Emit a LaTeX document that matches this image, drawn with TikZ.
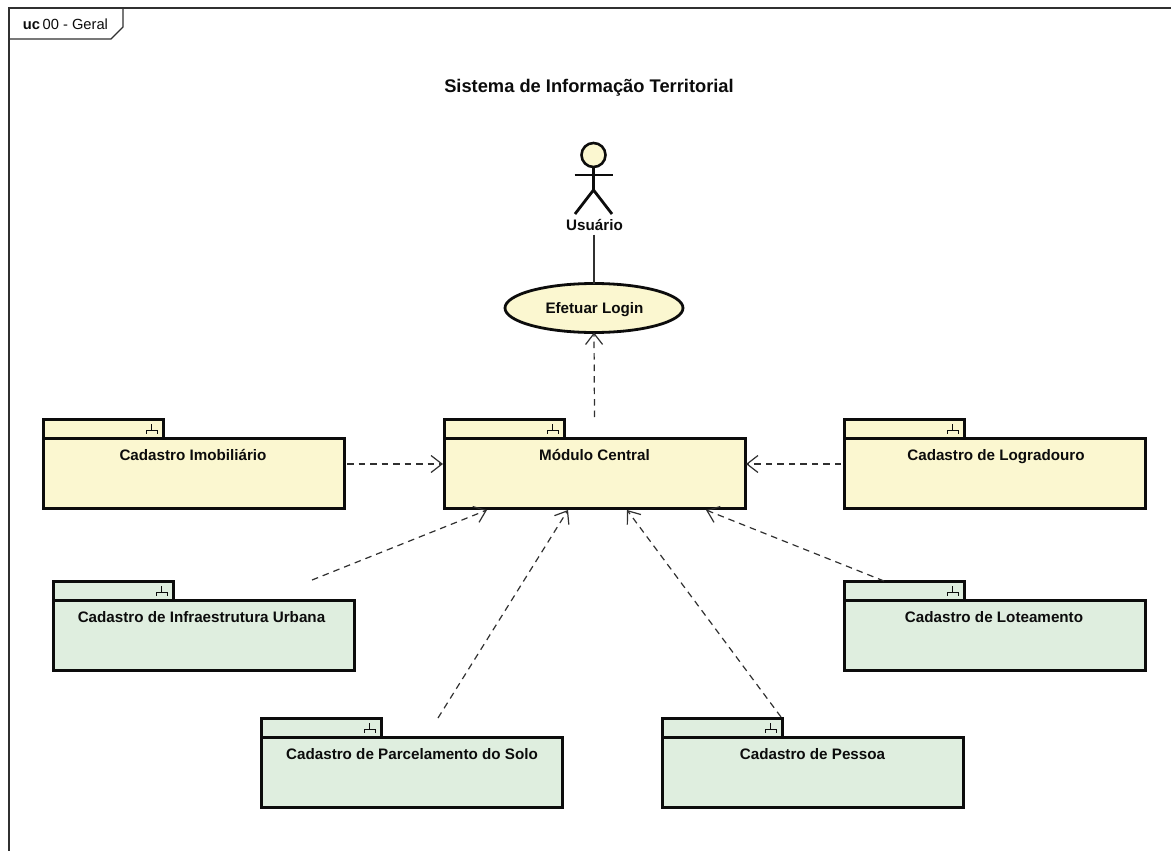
\documentclass[tikz,border=0pt]{standalone}
\usepackage{fontspec}
\setmainfont{Liberation Sans}
\usetikzlibrary{arrows.meta,shapes.geometric,calc}
\definecolor{ylw}{HTML}{FBF7D0}
\definecolor{grn}{HTML}{DFEEDF}
\definecolor{ink}{HTML}{0C0C0C}
\tikzset{
  x=1pt,y=-1pt,
  every node/.style={inner sep=0pt,outer sep=0pt},
  pbody/.style={draw=ink,line width=3pt,anchor=north west,minimum width=301pt,minimum height=70pt},
  ptab/.style={draw=ink,line width=3pt,anchor=south west,minimum width=120pt,minimum height=19pt},
  plabel/.style={font=\bfseries\fontsize{15.2}{17}\selectfont,text=ink},
  dep/.style={draw=ink!85,line width=1.2pt,dash pattern=on 6.5pt off 5pt,-{Straight Barb[length=11pt,width=17pt,line width=1.2pt]}},
  stick/.style={draw=ink,line width=2.8pt},
}
\newcommand{\fork}[1]{%
  \draw[ink,line width=1pt] ($(#1.south east)+(-12,-8)$) -- ++(0,-6) ($(#1.south east)+(-17,-4.5)$) -- ++(0,-3.5) -- ++(11,0) -- ++(0,3.5);}
\begin{document}
\begin{tikzpicture}
\useasboundingbox (0,0) rectangle (1171,851);
\fill[white] (0,0) rectangle (1171,851);
% frame
\draw[ink!85,line width=1.4pt] (9,851) -- (9,8) -- (1171,8);
\draw[ink!85,line width=1.4pt] (9,39) -- (111,39) -- (123,27) -- (123,8);
\node[anchor=base west,font=\fontsize{14.7}{16}\selectfont,text=ink] (frm) at (23,30) {\textbf{uc}\,00 - Geral};
\node[font=\bfseries\fontsize{18.3}{20}\selectfont,text=ink] (ttl) at (589,88) {Sistema de Informação Territorial};
% actor
\node[circle,draw=ink,line width=2.6pt,fill=ylw,minimum size=24pt] (head) at (593.5,155) {};
\coordinate (hip) at (593.5,190);
\draw[stick] (head.south) -- (hip);
\draw[stick] (574.5,175) -- (613,175);
\draw[stick] (575,214) -- (hip) -- (612,214);
\node[plabel] (usr) at (594.5,225) {Usuário};
% use case
\node[ellipse,draw=ink,line width=2.8pt,fill=ylw,minimum width=178pt,minimum height=49pt] (login) at (594,308) {};
\node[plabel] (logintxt) at (594.5,310) {Efetuar Login};
\draw[ink!85,line width=1.3pt] ([yshift=-4pt]usr.south -| login.north) -- (login.north);
% packages
\foreach \n/\x/\y/\c/\d/\t in {
  imob/43/438/ylw/-0.5/Cadastro Imobiliário,
  centro/444/438/ylw/0/Módulo Central,
  logr/844/438/ylw/1.5/Cadastro de Logradouro,
  infra/53/600/grn/-2/Cadastro de Infraestrutura Urbana,
  lote/844/600/grn/-0.5/Cadastro de Loteamento,
  parc/261/737/grn/0.5/Cadastro de Parcelamento do Solo,
  pess/662/737/grn/0/Cadastro de Pessoa}{
  \node[ptab,fill=\c] (\n tab) at (\x,\y) {};
  \node[pbody,fill=\c] (\n) at (\x,\y) {};
  \node[plabel,anchor=base] (\n txt) at ($(\n.north)+(\d,22.5)$) {\t};
  \fork{\n tab}
}
% connectors
\draw[dep] ([shift={(3,-9)}]imob.east) -- ([shift={(-1,-9)}]centro.west);
\draw[dep] ([shift={(-3,-9)}]logr.west) -- ([shift={(1,-9)}]centro.east);
\draw[dep] ([yshift=2pt]centro.north |- centrotab.north) -- (login.south);
\draw[dep] ([shift={(259,-20)}]infra.north west) -- ([shift={(43,2)}]centro.south west);
\draw[dep] ([shift={(40,-19)}]lote.north west) -- ([shift={(-39,2)}]centro.south east);
\draw[dep] ([shift={(177,-19)}]parc.north west) -- ([shift={(124,2)}]centro.south west);
\draw[dep] ([shift={(119,-20)}]pess.north west) -- ([shift={(183,2)}]centro.south west);
\end{tikzpicture}
\end{document}
